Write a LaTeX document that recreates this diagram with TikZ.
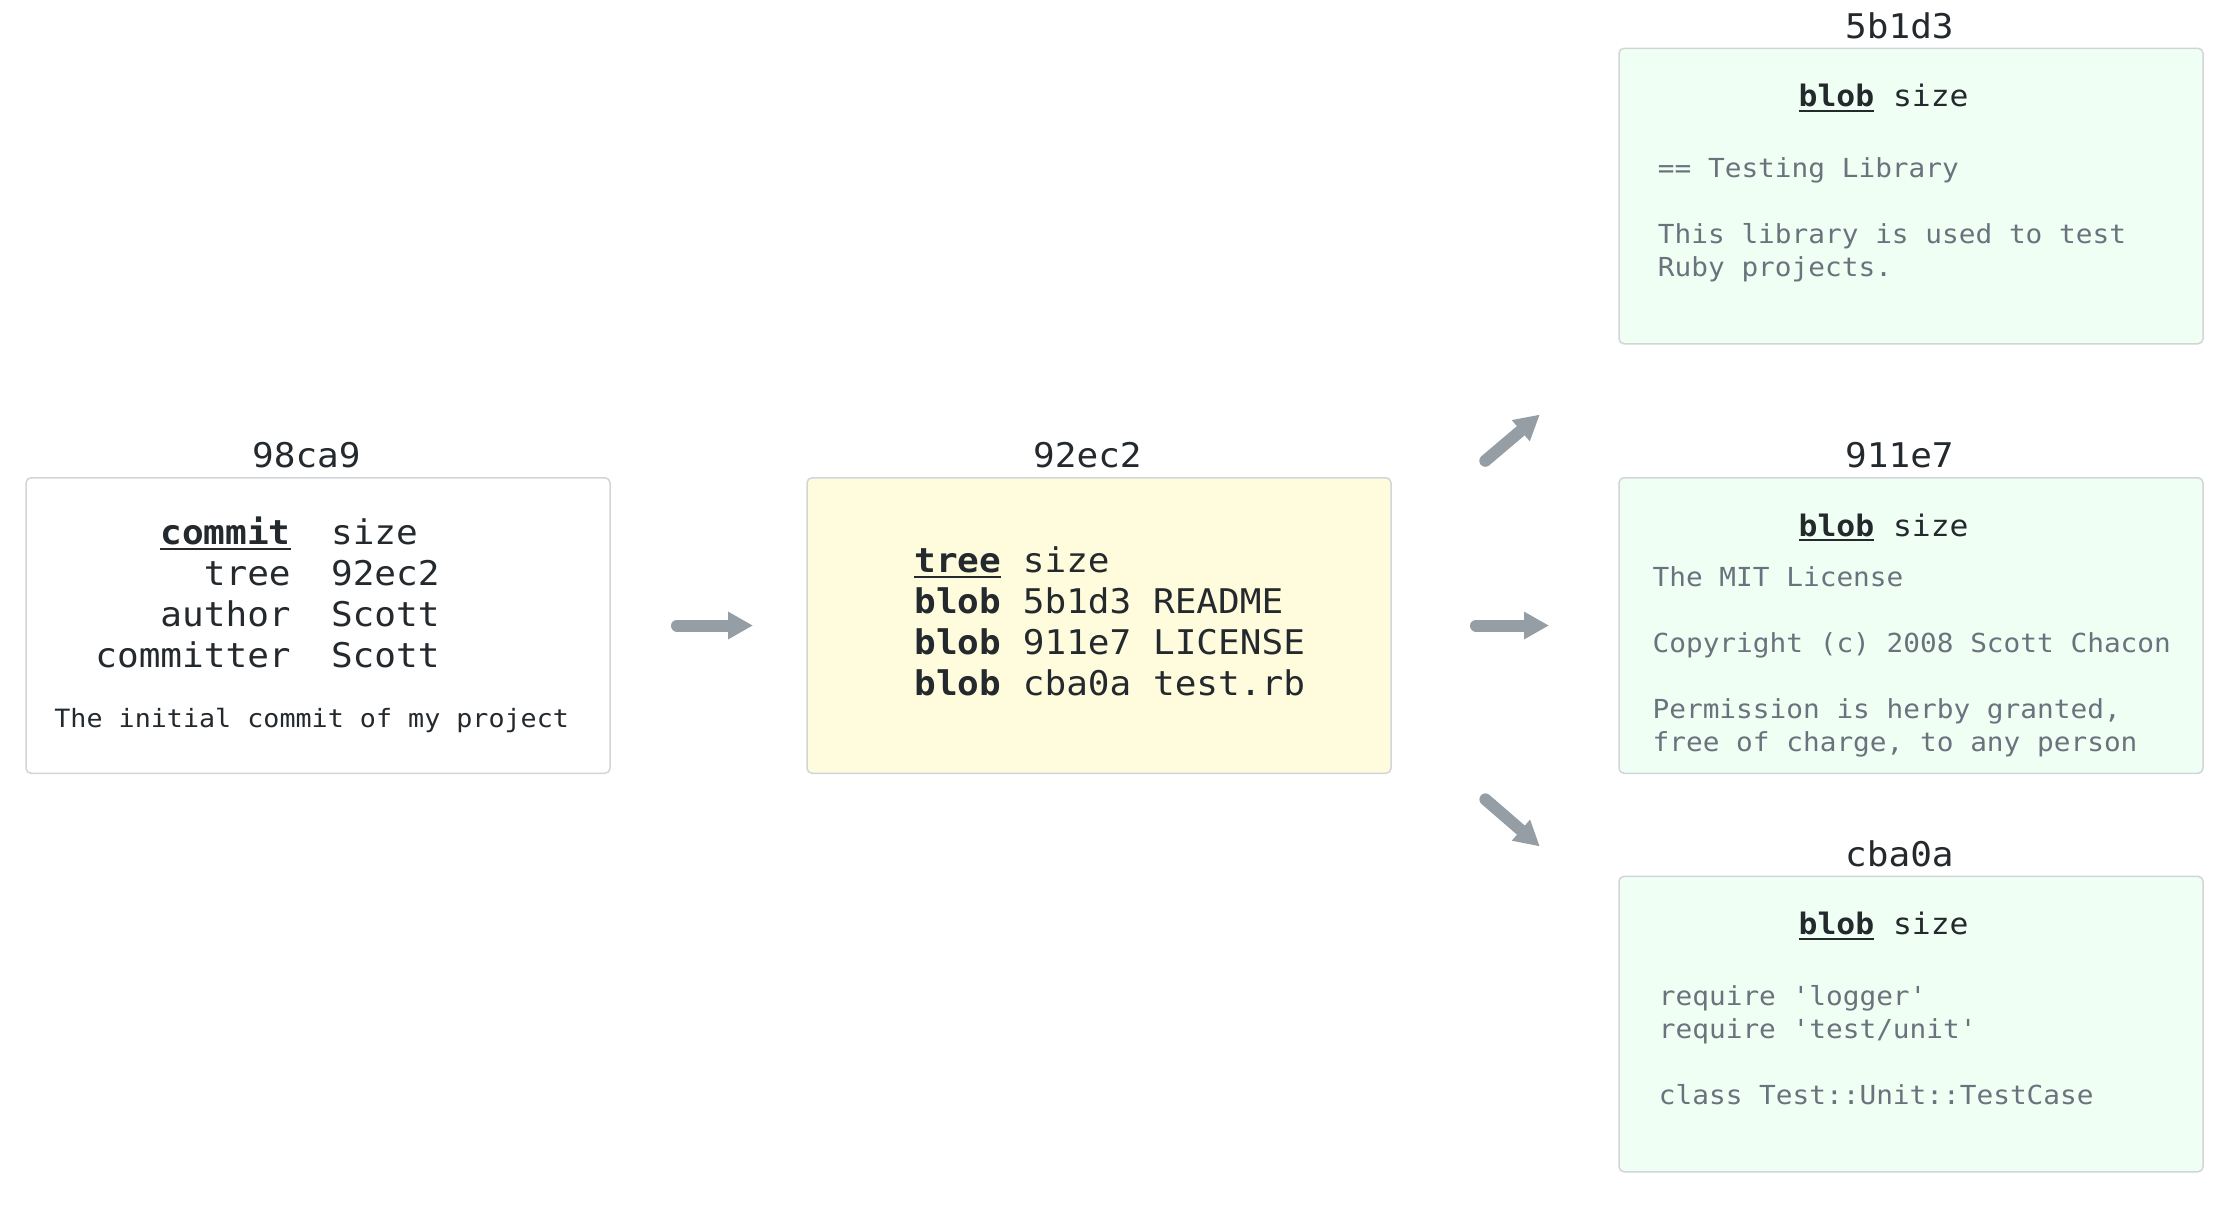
\documentclass[tikz,border=0pt]{standalone}
\usepackage{fontspec}
\setmonofont{DejaVu Sans Mono}[FakeStretch=1.06]
\usepackage{tikz}
\usetikzlibrary{positioning, arrows.meta, calc}

\definecolor{ink}{HTML}{24292E}
\definecolor{muted}{HTML}{6A737D}
\definecolor{edge}{HTML}{D1D5DA}
\definecolor{treefill}{HTML}{FFFBDD}
\definecolor{blobfill}{HTML}{F0FFF4}
\definecolor{arrowgray}{HTML}{959DA5}

\newcommand{\objkind}[1]{\setbox0\hbox{\bfseries #1}\rlap{\rule[-2.6pt]{\wd0}{1.1pt}}\box0\relax}
\newcommand{\fs}[2]{\fontsize{#1}{#2}\selectfont}

\tikzstyle{object} = [rectangle, rounded corners=2.5pt, draw=edge, line width=0.75pt, inner sep=0pt, outer sep=0pt, minimum width=292pt, minimum height=147.75pt]
\tikzstyle{commitbox} = [object, fill=white]
\tikzstyle{treebox} = [object, fill=treefill]
\tikzstyle{blobbox} = [object, fill=blobfill]
\tikzstyle{objid} = [inner sep=0pt, anchor=base, text=ink, font=\ttfamily\fs{17pt}{20pt}]
\tikzstyle{content} = [inner sep=0pt, anchor=base west, text=ink]
\tikzstyle{arrow} = [draw=arrowgray, line width=6pt, line cap=round, -{Triangle[length=12.5pt, width=13pt]}]

\begin{document}
\begin{tikzpicture}[x=0.5pt, y=-0.5pt]
    \useasboundingbox (0,0) rectangle (2223,1207);

    % objects
    \node (commit) [commitbox] at (318,625.5) {};
    \node (tree) [treebox, right=98.5pt of commit] {};
    \node (license) [blobbox, right=114pt of tree] {};
    \node (readme) [blobbox, above=67pt of license] {};
    \node (testrb) [blobbox, below=51.5pt of license] {};

    % hashes
    \node (commit-id) [objid] at ([xshift=-5.8pt, yshift=5pt]commit.north) {98ca9};
    \node (tree-id) [objid] at ([xshift=-5.8pt, yshift=5pt]tree.north) {92ec2};
    \node (readme-id) [objid] at ([xshift=-5.8pt, yshift=5pt]readme.north) {5b1d3};
    \node (license-id) [objid] at ([xshift=-5.8pt, yshift=5pt]license.north) {911e7};
    \node (testrb-id) [objid] at ([xshift=-5.8pt, yshift=5pt]testrb.north) {cba0a};

    % commit
    \node (commit-head) [content, font=\ttfamily\fs{17pt}{20.5pt}] at ([xshift=34.5pt, yshift=-33.5pt]commit.north west)
    {\begin{tabular}[t]{@{}r@{\hspace{20.2pt}}l@{}}
        \objkind{commit} & size\\
        tree & 92ec2\\
        author & Scott\\
        committer & Scott
    \end{tabular}};
    \node (commit-msg) [content, font=\ttfamily\fs{12.6pt}{14pt}] at ([xshift=14pt, yshift=-125pt]commit.north west) {The initial commit of my project};

    % tree
    \node (tree-entries) [content, font=\ttfamily\fs{17pt}{20.5pt}] at ([xshift=53.5pt, yshift=-47.5pt]tree.north west)
    {\begin{tabular}[t]{@{}l@{}}
        \objkind{tree} size\\
        \textbf{blob} 5b1d3 README\\
        \textbf{blob} 911e7 LICENSE\\
        \textbf{blob} cba0a test.rb
    \end{tabular}};

    % blobs
    \foreach \b in {readme, license, testrb}
        \node (\b-head) [content, font=\ttfamily\fs{14.8pt}{17pt}] at ([xshift=89.6pt, yshift=-29.25pt]\b.north west) {\objkind{blob} size};

    \node (readme-body) [content, text=muted, font=\ttfamily\fs{13.1pt}{16.5pt}] at ([xshift=19.25pt, yshift=-64.75pt]readme.north west)
    {\begin{tabular}[t]{@{}l@{}}
        == Testing Library\\
        \\
        This library is used to test\\
        Ruby projects.
    \end{tabular}};
    \node (license-body) [content, text=muted, font=\ttfamily\fs{13.1pt}{16.5pt}] at ([xshift=16.6pt, yshift=-54.5pt]license.north west)
    {\begin{tabular}[t]{@{}l@{}}
        The MIT License\\
        \\
        Copyright (c) 2008 Scott Chacon\\
        \\
        Permission is herby granted,\\
        free of charge, to any person
    \end{tabular}};
    \node (testrb-body) [content, text=muted, font=\ttfamily\fs{13.1pt}{16.5pt}] at ([xshift=19.75pt, yshift=-64.5pt]testrb.north west)
    {\begin{tabular}[t]{@{}l@{}}
        require 'logger'\\
        require 'test/unit'\\
        \\
        class Test::Unit::TestCase
    \end{tabular}};

    % pointers
    \draw[arrow, shorten <=33.5pt, shorten >=27pt] (commit.east) -- (tree.west);
    \draw[arrow, shorten <=42.5pt, shorten >=35pt] (tree.east) -- (license.west);
    \draw[arrow, shorten <=61.8pt, shorten >=51.9pt] ([yshift=42.4pt]tree.east) -- ([yshift=-1.85pt]readme.south west);
    \draw[arrow, shorten <=62.4pt, shorten >=52.35pt] ([yshift=-46.1pt]tree.east) -- ([yshift=-19.35pt]testrb.north west);

\end{tikzpicture}
\end{document}
